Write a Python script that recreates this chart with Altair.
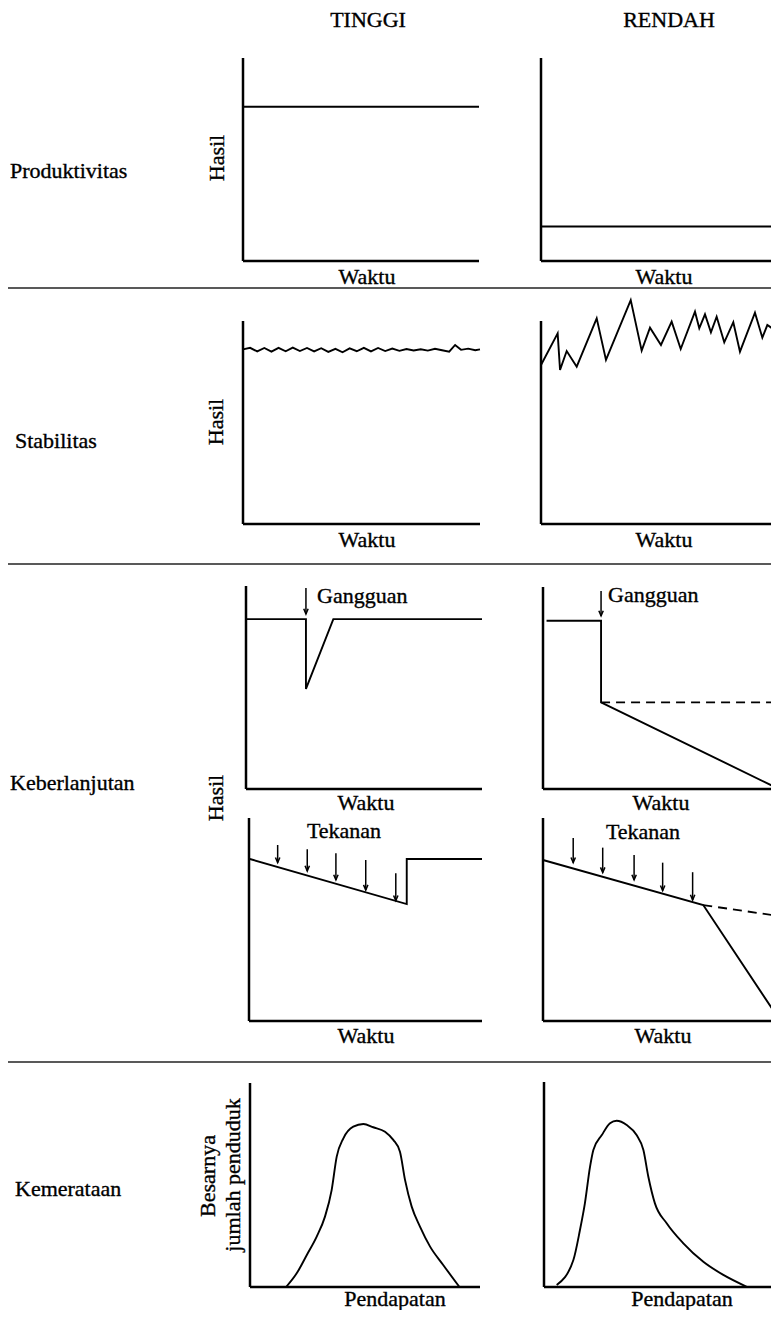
import altair as alt
import pandas as pd

FONT = "Liberation Serif"
FS = 22

# ---------------- text content ----------------
col_headers = ["TINGGI", "RENDAH"]
row_labels = ["Produktivitas", "Stabilitas", "Keberlanjutan", "Kemerataan"]

# ---------------- data in local units (t: 0-100 along x, v: 0-100 along y) ----------------
# Produktivitas
prod_t = [0, 100]
prod_tinggi = [76, 76]
prod_rendah = [17, 17]

# Stabilitas
stab_tinggi_t = [0, 3, 6, 9, 12, 15, 18, 21, 24, 27, 30, 33, 36, 39, 42, 45, 48,
                 51, 54, 57, 60, 63, 66, 69, 72, 75, 78, 81, 84, 87, 89.5, 92, 95, 98, 100]
stab_tinggi = [86.0, 86.8, 85.0, 86.7, 84.9, 86.8, 85.1, 86.9, 85.2, 86.7, 85.0, 86.6,
               84.8, 86.3, 84.6, 86.5, 85.1, 86.8, 85.0, 86.7, 85.2, 86.4, 85.3, 86.2,
               85.5, 86.1, 85.4, 86.3, 85.6, 84.9, 88.2, 85.8, 86.4, 85.6, 86.0]
stab_rendah_t = [0, 7.0, 8.0, 10.8, 15.0, 23.4, 27.3, 37.7, 42.3, 45.8, 50.4, 54.9,
                 58.7, 64.7, 66.5, 68.9, 71.4, 73.8, 77.0, 80.8, 83.6, 89.9, 93.0, 95.1, 99.7]
stab_rendah = [78.3, 93.9, 75.9, 85.2, 77.5, 101.3, 80.8, 110.3, 85.4, 96.7, 88.2, 99.7,
               86.2, 104.6, 96.4, 103.3, 94.4, 102.1, 89.5, 99.4, 84.9, 104.1, 91.8, 98.0, 94.4]

# Keberlanjutan - Gangguan (disturbance)
gang_tinggi_t = [0, 25.4, 25.4, 37.0, 100]
gang_tinggi = [83.7, 83.7, 49.3, 83.7, 83.7]
gang_rendah_t = [1.5, 24.6, 24.6, 100]
gang_rendah = [83.3, 83.3, 42.9, 0]
gang_rendah_dash_t = [24.6, 100]
gang_rendah_dash = [42.9, 42.9]
gang_arrow_t = [25.4, 24.6]
gang_arrow_from = [99.0, 98.0]
gang_arrow_to = [86.2, 85.7]

# Keberlanjutan - Tekanan (stress)
tek_tinggi_t = [0.4, 67.7, 67.7, 100]
tek_tinggi = [79.8, 57.6, 79.8, 79.8]
tek_rendah_t = [0, 67.9, 100]
tek_rendah = [79.3, 57.1, 1.0]
tek_rendah_dash_t = [67.9, 100]
tek_rendah_dash = [57.1, 51.7]
tek_tinggi_arrow_t = [12.3, 25.0, 37.3, 50.1, 63.0]
tek_tinggi_arrow_from = [86.7, 84.6, 82.6, 79.3, 72.8]
tek_tinggi_arrow_to = [78.0, 73.9, 69.5, 64.5, 59.3]
tek_rendah_arrow_t = [12.8, 25.3, 38.6, 50.7, 63.4]
tek_rendah_arrow_from = [90.1, 85.4, 81.8, 78.0, 73.3]
tek_rendah_arrow_to = [78.0, 73.1, 69.5, 64.2, 59.6]

# Kemerataan - income distribution
mer_tinggi_t = [15.7, 20.3, 24.7, 29.0, 32.6, 35.5, 37.7, 40.6, 44.9, 49.3, 53.6, 58.7,
                62.3, 65.2, 67.4, 70.3, 73.9, 78.3, 84.0, 91.0]
mer_tinggi = [0, 6.7, 15.7, 24.7, 34.5, 47.5, 63.9, 72.9, 78.6, 79.9, 78.3, 76.1,
              72.1, 66.3, 52.5, 39.4, 29.6, 19.8, 10.8, 0.1]
mer_rendah_t = [5.4, 12.5, 15.3, 17.4, 19.6, 21.0, 24.6, 28.1, 30.9, 35.2, 39.4, 42.3,
                44.4, 47.2, 52.2, 59.3, 67.8, 76.3, 86.3]
mer_rendah = [1.0, 13.2, 27.8, 40.8, 58.7, 66.8, 74.1, 79.9, 81.1, 79.0, 74.1, 66.8,
              53.8, 40.8, 31.1, 21.3, 12.3, 5.9, 0.1]

# ---------------- layout (page pixels): x0, xr, ytop, ybot of each small panel ----------------
frames = {
    "prod_L": (243, 479, 58, 261),
    "prod_R": (541, 779, 58, 261),
    "stab_L": (243, 480, 321, 524),
    "stab_R": (541, 779, 321, 524),
    "gang_L": (246, 482, 586, 789),
    "gang_R": (543, 779, 587, 789),
    "tek_L": (249, 482, 818, 1021),
    "tek_R": (543, 779, 818, 1021),
    "mer_L": (250, 480, 1083, 1287),
    "mer_R": (544, 779, 1082, 1287),
}
divider_y = [288, 564, 1062]


def px(frame, t):
    x0, xr, _, _ = frames[frame]
    return x0 + t / 100.0 * (xr - x0)


def py(frame, v):
    _, _, yt, yb = frames[frame]
    return yb - v / 100.0 * (yb - yt)


def series_rows(sid, frame, ts, vs):
    return [{"sid": sid, "k": i, "x": px(frame, t), "y": py(frame, v)}
            for i, (t, v) in enumerate(zip(ts, vs))]


solid = []
solid += series_rows("p1", "prod_L", prod_t, prod_tinggi)
solid += series_rows("p2", "prod_R", prod_t, prod_rendah)
solid += series_rows("s1", "stab_L", stab_tinggi_t, stab_tinggi)
solid += series_rows("s2", "stab_R", stab_rendah_t, stab_rendah)
solid += series_rows("g1", "gang_L", gang_tinggi_t, gang_tinggi)
solid += series_rows("g2", "gang_R", gang_rendah_t, gang_rendah)
solid += series_rows("t1", "tek_L", tek_tinggi_t, tek_tinggi)
solid += series_rows("t2", "tek_R", tek_rendah_t, tek_rendah)
solid_df = pd.DataFrame(solid)

dashed = []
dashed += series_rows("gd", "gang_R", gang_rendah_dash_t, gang_rendah_dash)
dashed += series_rows("td", "tek_R", tek_rendah_dash_t, tek_rendah_dash)
dashed_df = pd.DataFrame(dashed)

curves = []
curves += series_rows("m1", "mer_L", mer_tinggi_t, mer_tinggi)
curves += series_rows("m2", "mer_R", mer_rendah_t, mer_rendah)
curves_df = pd.DataFrame(curves)

arrows = []
for fr, t, a, b in zip(["gang_L", "gang_R"], gang_arrow_t, gang_arrow_from, gang_arrow_to):
    arrows.append({"x": px(fr, t), "y": py(fr, a), "y2": py(fr, b)})
for t, a, b in zip(tek_tinggi_arrow_t, tek_tinggi_arrow_from, tek_tinggi_arrow_to):
    arrows.append({"x": px("tek_L", t), "y": py("tek_L", a), "y2": py("tek_L", b)})
for t, a, b in zip(tek_rendah_arrow_t, tek_rendah_arrow_from, tek_rendah_arrow_to):
    arrows.append({"x": px("tek_R", t), "y": py("tek_R", a), "y2": py("tek_R", b)})
arrows_df = pd.DataFrame(arrows)

frames_df = pd.DataFrame([{"name": k, "x0": v[0], "xr": v[1] + (12 if v[1] >= 779 else 0),
                           "ytop": v[2], "ybot": v[3]} for k, v in frames.items()])
div_df = pd.DataFrame({"y": divider_y})

labels_center = pd.DataFrame([
    {"text": col_headers[0], "x": 368, "y": 20},
    {"text": col_headers[1], "x": 669, "y": 20},
    {"text": "Waktu", "x": 367, "y": 277},
    {"text": "Waktu", "x": 664, "y": 277},
    {"text": "Waktu", "x": 367, "y": 540},
    {"text": "Waktu", "x": 664, "y": 540},
    {"text": "Waktu", "x": 366, "y": 803},
    {"text": "Waktu", "x": 661, "y": 803},
    {"text": "Waktu", "x": 366, "y": 1036},
    {"text": "Waktu", "x": 663, "y": 1036},
    {"text": "Tekanan", "x": 344, "y": 831},
    {"text": "Tekanan", "x": 643, "y": 832},
    {"text": "Pendapatan", "x": 395, "y": 1299},
    {"text": "Pendapatan", "x": 682, "y": 1299},
])
labels_left = pd.DataFrame([
    {"text": row_labels[0], "x": 10, "y": 171},
    {"text": row_labels[1], "x": 15, "y": 441},
    {"text": row_labels[2], "x": 10, "y": 783},
    {"text": row_labels[3], "x": 15, "y": 1189},
    {"text": "Gangguan", "x": 317, "y": 596},
    {"text": "Gangguan", "x": 608, "y": 595},
])
labels_rot = pd.DataFrame([
    {"text": "Hasil", "x": 217, "y": 158},
    {"text": "Hasil", "x": 216, "y": 422},
    {"text": "Hasil", "x": 216, "y": 798},
    {"text": "Besarnya", "x": 208, "y": 1176},
    {"text": "jumlah penduduk", "x": 233, "y": 1175},
])

# ---------------- scales ----------------
xs = alt.Scale(domain=[8, 771], nice=False, zero=False)
ys = alt.Scale(domain=[8, 1310], nice=False, zero=False, reverse=True)


def X(f):
    return alt.X(f, type="quantitative", scale=xs, axis=None)


def Y(f):
    return alt.Y(f, type="quantitative", scale=ys, axis=None)


dividers = alt.Chart(div_df).mark_rule(color="#222222", strokeWidth=1.3).encode(
    y=Y("y"), x=alt.value(0), x2=alt.value(771))

yaxes = alt.Chart(frames_df).mark_rule(color="black", strokeWidth=2.5).encode(
    x=X("x0"), y=Y("ytop"), y2="ybot")
xaxes = alt.Chart(frames_df).mark_rule(color="black", strokeWidth=2.5).encode(
    x=X("x0"), x2="xr", y=Y("ybot"))

solid_lines = alt.Chart(solid_df).mark_line(color="black", strokeWidth=1.9).encode(
    x=X("x"), y=Y("y"), detail="sid:N", order="k:Q")
dashed_lines = alt.Chart(dashed_df).mark_line(color="black", strokeWidth=1.9,
                                              strokeDash=[9, 6]).encode(
    x=X("x"), y=Y("y"), detail="sid:N", order="k:Q")
bell_lines = alt.Chart(curves_df).mark_line(color="black", strokeWidth=1.9,
                                            interpolate="monotone").encode(
    x=X("x"), y=Y("y"), detail="sid:N", order="k:Q")

shafts = alt.Chart(arrows_df).mark_rule(color="black", strokeWidth=1.5).encode(
    x=X("x"), y=Y("y"), y2="y2")
heads = alt.Chart(arrows_df).mark_point(
    shape="M-0.55,-1.3L0,0L0.55,-1.3", filled=False, size=64,
    color="black", strokeWidth=1.5, opacity=1).encode(x=X("x"), y=Y("y2"))

TXT = dict(font=FONT, fontSize=FS, color="black", baseline="middle",
           stroke="black", strokeWidth=0.35)
txt_c = alt.Chart(labels_center).mark_text(align="center", **TXT).encode(
    x=X("x"), y=Y("y"), text="text:N")
txt_l = alt.Chart(labels_left).mark_text(align="left", **TXT).encode(
    x=X("x"), y=Y("y"), text="text:N")
txt_r = alt.Chart(labels_rot).mark_text(align="center", angle=270, **TXT).encode(
    x=X("x"), y=Y("y"), text="text:N")

chart = alt.layer(
    dividers, yaxes, xaxes, solid_lines, dashed_lines, bell_lines,
    shafts, heads, txt_c, txt_l, txt_r
).properties(
    width=763, height=1302, padding=0,
    autosize=alt.AutoSizeParams(type="none"),
    background="white",
).configure_view(strokeWidth=0)

chart.save("out.html", embed_options={"renderer": "svg", "actions": False})
